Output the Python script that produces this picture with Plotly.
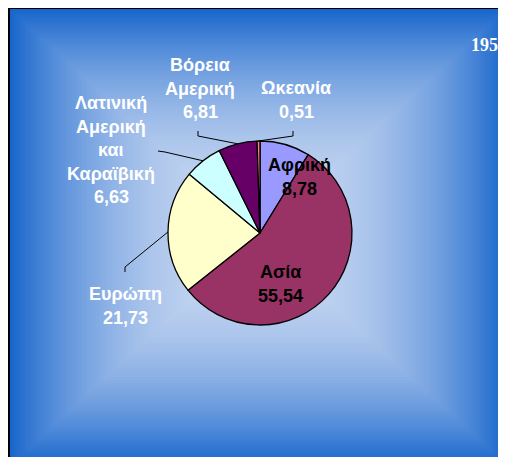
import numpy as np
import plotly.graph_objects as go

# ── Data ─────────────────────────────────────────────────────────────────────
REGIONS = ["Αφρική", "Ασία", "Ευρώπη", "Λατινική Αμερική και Καραϊβική",
           "Βόρεια Αμερική", "Ωκεανία"]
SHARES = [8.78, 55.54, 21.73, 6.63, 6.81, 0.51]
COLORS = ["#9999FF", "#993366", "#FFFFCC", "#CCFFFF", "#660066", "#FF8080"]
YEAR = "1950"

# ── Geometry (pixels of the page; the page body keeps an 8px margin) ──────────
W, H = 498, 449
OFF = 8
CX, CY, R = 260, 233, 92


def px(x):
    return (x - OFF) / W


def py(y):
    return 1 - (y - OFF) / H


def edge_point(idx, r=R):
    """Point on pie rim at the middle of slice idx (clockwise from 12 o'clock)."""
    total = sum(SHARES)
    start = sum(SHARES[:idx])
    mid = (start + SHARES[idx] / 2) / total * 2 * np.pi
    return CX + r * np.sin(mid), CY - r * np.cos(mid)


fig = go.Figure(go.Pie(
    labels=REGIONS,
    values=SHARES,
    sort=False,
    direction="clockwise",
    rotation=0,
    marker=dict(colors=COLORS, line=dict(color="black", width=1.3)),
    textinfo="none",
    hoverinfo="label+value",
    showlegend=False,
    domain=dict(x=[px(CX - R), px(CX + R)], y=[py(CY + R), py(CY - R)]),
))

# ── Background: rectangular gradient from the centre ─────────────────────────
shapes = []
edge = np.array([24, 102, 205])
centre = np.array([200, 216, 242])
gx0, gy0, gx1, gy1 = 9, 8, 508, 466
gcx, gcy = (gx0 + gx1) / 2, (gy0 + gy1) / 2
steps = 80
for i in range(steps):
    t = 1 - i / steps
    c = centre + (edge - centre) * t ** 2.2
    hw, hh = (gcx - gx0) * t, (gcy - gy0) * t
    # outermost band is stretched past the page edge so no white shows
    ext = 30 if i == 0 else 0
    shapes.append(dict(
        type="rect", xref="paper", yref="paper", layer="below",
        x0=px(gcx - hw), x1=px(gcx + hw + ext),
        y0=py(gcy + hh + ext), y1=py(gcy - hh),
        fillcolor=f"rgb({int(c[0])},{int(c[1])},{int(c[2])})",
        line=dict(width=0),
    ))
# frame (only the left and top edges are on the page)
shapes.append(dict(type="rect", xref="paper", yref="paper", layer="below",
                   x0=px(gx0), x1=px(gx1 + 40), y0=py(gy1 + 40), y1=py(gy0),
                   line=dict(color="black", width=2)))

# ── Leader lines (elbow at label, end on slice rim) ──────────────────────────
LEADERS = {2: [(125, 272), (125, 267)],
           3: [(158, 151), (165, 152)],
           4: [(198, 131), (198, 136)],
           5: [(293, 131), (293, 136)]}
for idx, pts in LEADERS.items():
    ex, ey = edge_point(idx)
    allp = pts + [(ex, ey)]
    path = "M " + " L ".join(f"{px(x)},{py(y)}" for x, y in allp)
    shapes.append(dict(type="path", xref="paper", yref="paper", path=path,
                       line=dict(color="black", width=1)))

# ── Labels ───────────────────────────────────────────────────────────────────
FONT = "Liberation Sans, Arial, sans-serif"


def fmt(v):
    return f"{v:.2f}".replace(".", ",")


LABELS = [
    (["Αφρική", fmt(SHARES[0])], 299, 165, "black"),
    (["Ασία", fmt(SHARES[1])], 280, 272, "black"),
    (["Ευρώπη", fmt(SHARES[2])], 125, 294, "white"),
    (["Λατινική", "Αμερική", "και", "Καραϊβική", fmt(SHARES[3])], 111, 103, "white"),
    (["Βόρεια", "Αμερική", fmt(SHARES[4])], 200, 65, "white"),
    (["Ωκεανία", fmt(SHARES[5])], 296, 88, "white"),
]
annotations = []
for lines, x, y0, col in LABELS:
    for k, line in enumerate(lines):
        annotations.append(dict(
            text=f"<b>{line}</b>", x=px(x), y=py(y0 + k * 23.6),
            xref="paper", yref="paper", showarrow=False,
            xanchor="center", yanchor="middle",
            font=dict(family=FONT, size=18, color=col),
        ))
annotations.append(dict(
    text=f"<b>{YEAR}</b>", x=px(469), y=py(45), xref="paper", yref="paper",
    showarrow=False, xanchor="left", yanchor="middle",
    font=dict(family="Liberation Serif, Times New Roman, serif", size=18,
              color="white"),
))

fig.update_layout(
    width=W, height=H,
    margin=dict(l=0, r=0, t=0, b=0),
    paper_bgcolor="white",
    plot_bgcolor="white",
    shapes=shapes,
    annotations=annotations,
)

fig.write_html("out.html", config=dict(displayModeBar=False))
